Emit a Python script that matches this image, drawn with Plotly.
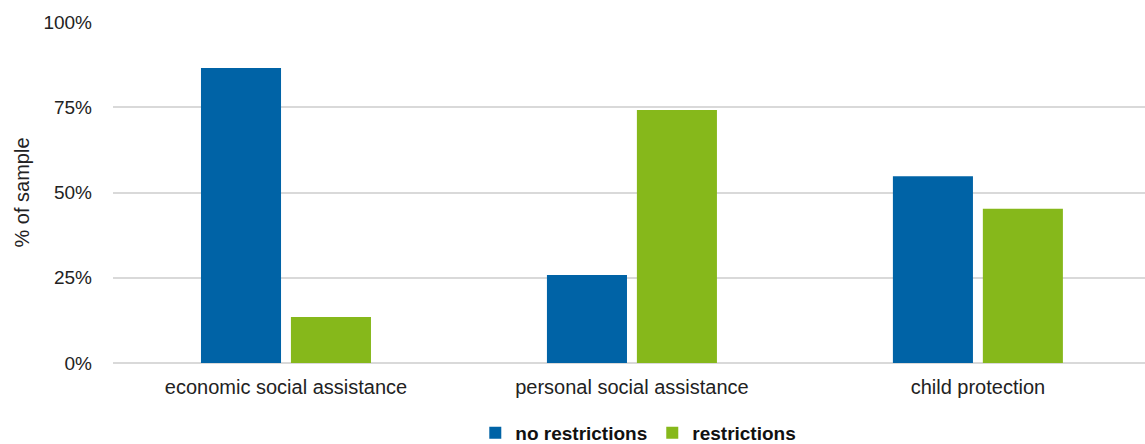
import plotly.graph_objects as go

categories = ["economic social assistance", "personal social assistance", "child protection"]
no_restrictions = [86.5, 25.8, 54.8]
restrictions = [13.5, 74.2, 45.2]
y_ticks = [0, 25, 50, 75, 100]
y_tick_labels = ["0%", "25%", "50%", "75%", "100%"]

font_family = "Liberation Sans, Arial, Helvetica, sans-serif"

fig = go.Figure()
fig.add_trace(go.Bar(x=categories, y=no_restrictions, name="no restrictions",
                     marker=dict(color="#0063A6", line=dict(width=0))))
fig.add_trace(go.Bar(x=categories, y=restrictions, name="restrictions",
                     marker=dict(color="#86B81B", line=dict(width=0))))

fig.update_layout(
    width=1145, height=444,
    margin=dict(l=113, r=0, t=22, b=81, autoexpand=False),
    paper_bgcolor="white", plot_bgcolor="white",
    barmode="group", bargap=0.48, bargroupgap=0.11,
    font=dict(family=font_family, size=19, color="#222222"),
    showlegend=True,
    legend=dict(orientation="h", x=0.509, xanchor="center",
                y=-0.205, yanchor="middle",
                font=dict(size=19, color="#111111", family=font_family, weight="bold"),
                itemwidth=30, traceorder="normal"),
)
fig.update_xaxes(range=[-0.5, 2.483], showline=False, ticks="", showgrid=False,
                 automargin=False, ticklabelstandoff=10,
                 tickfont=dict(size=20, color="#222222"))
fig.update_yaxes(range=[0, 100], tickvals=y_ticks, ticktext=y_tick_labels,
                 showgrid=True, gridcolor="#d9d9d9", gridwidth=1.5,
                 zeroline=True, zerolinecolor="#d9d9d9", zerolinewidth=1.5,
                 showline=False, ticks="", ticklabelstandoff=20, automargin=False,
                 tickfont=dict(size=19, color="#222222"),
                 title=dict(text="% of sample", font=dict(size=20, color="#222222"), standoff=8))

fig.write_html("out.html")
